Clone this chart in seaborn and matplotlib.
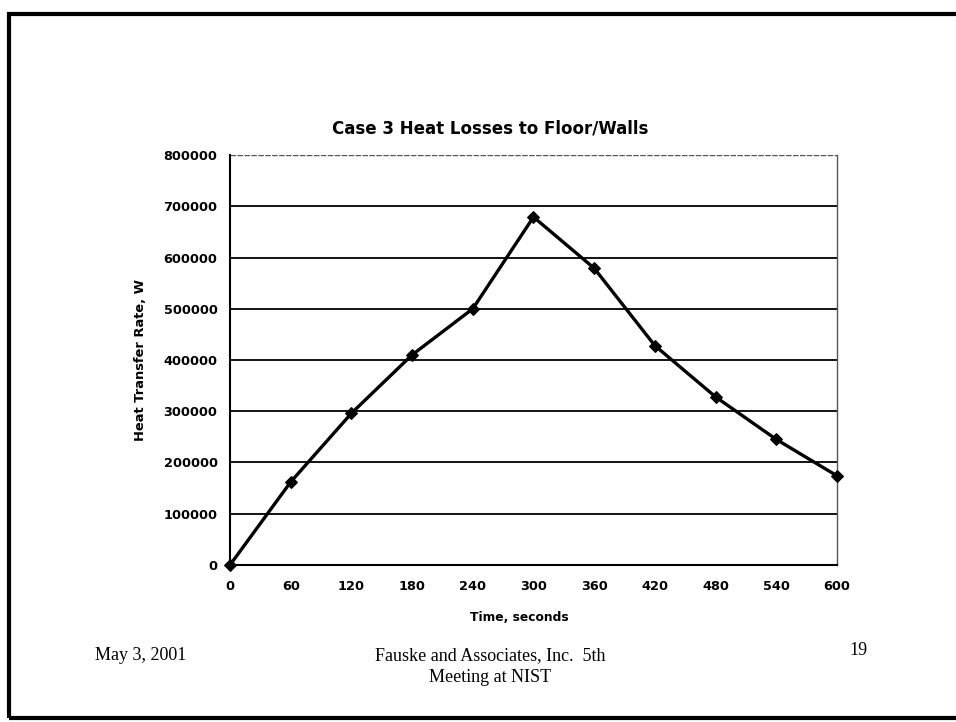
import matplotlib
matplotlib.use("Agg")
import matplotlib.pyplot as plt
import seaborn as sns
import pandas as pd

time_s = [0, 60, 120, 180, 240, 300, 360, 420, 480, 540, 600]
heat_rate_w = [0, 162000, 296000, 410000, 500000, 679000, 579000, 428000, 328000, 245000, 174000]
y_ticks = [0, 100000, 200000, 300000, 400000, 500000, 600000, 700000, 800000]

df = pd.DataFrame({"Time": time_s, "Rate": heat_rate_w})

sns.set_style("white")
plt.rcParams["font.family"] = ["DejaVu Sans"]
plt.rcParams["text.color"] = "black"
plt.rcParams["axes.labelcolor"] = "black"
plt.rcParams["xtick.color"] = "black"
plt.rcParams["ytick.color"] = "black"

fig = plt.figure(figsize=(9.56, 7.22), dpi=100)
ax = fig.add_axes([0.2406, 0.2175, 0.6349, 0.5678])

sns.lineplot(data=df, x="Time", y="Rate", ax=ax, color="black", linewidth=2.4,
             marker="D", markersize=6.5, markeredgecolor="black", markerfacecolor="black",
             clip_on=False, zorder=5)

ax.set_xlim(0, 600)
ax.set_ylim(0, 800000)
ax.set_xticks(time_s)
ax.set_yticks(y_ticks)
ax.set_xticklabels([str(t) for t in time_s], fontsize=9.3, fontweight="bold")
ax.set_yticklabels([str(v) for v in y_ticks], fontsize=9.3, fontweight="bold")
ax.tick_params(axis="both", direction="out", length=5, width=1.2, color="black", pad=6)
ax.tick_params(axis="y", pad=4)

for v in y_ticks[1:-1]:
    ax.axhline(v, color="black", linewidth=1.3, zorder=0)
ax.axhline(800000, color="#555555", linewidth=1.0, linestyle=(0, (4, 1)), zorder=0)

ax.spines["left"].set_color("black")
ax.spines["left"].set_linewidth(1.5)
ax.spines["bottom"].set_color("black")
ax.spines["bottom"].set_linewidth(1.5)
ax.spines["top"].set_visible(False)
ax.spines["right"].set_color("#555555")
ax.spines["right"].set_linewidth(1.0)
ax.spines["right"].set_linestyle((0, (2, 1)))

ax.set_xlabel("Time, seconds", fontsize=8.8, fontweight="bold")
ax.xaxis.set_label_coords(0.477, -0.112)
ax.set_ylabel("Heat Transfer Rate, W", fontsize=9.4, fontweight="bold", labelpad=12)

fig.text(0.513, 0.822, "Case 3 Heat Losses to Floor/Walls", ha="center", va="center",
         fontsize=12, fontweight="bold")

serif = ["Liberation Serif", "DejaVu Serif"]
fig.text(0.099, 0.092, "May 3, 2001", ha="left", va="center", fontsize=13, family=serif)
fig.text(0.513, 0.092, "Fauske and Associates, Inc.  5th", ha="center", va="center",
         fontsize=13, family=serif)
fig.text(0.513, 0.061, "Meeting at NIST", ha="center", va="center", fontsize=13, family=serif)
fig.text(0.889, 0.099, "19", ha="left", va="center", fontsize=13, family=serif)

# slide frame
frame = plt.Rectangle((0.009, 0.006), 1.2, 0.975, transform=fig.transFigure,
                      fill=False, edgecolor="black", linewidth=3.0)
fig.add_artist(frame)

fig.savefig("out.png", dpi=100)
